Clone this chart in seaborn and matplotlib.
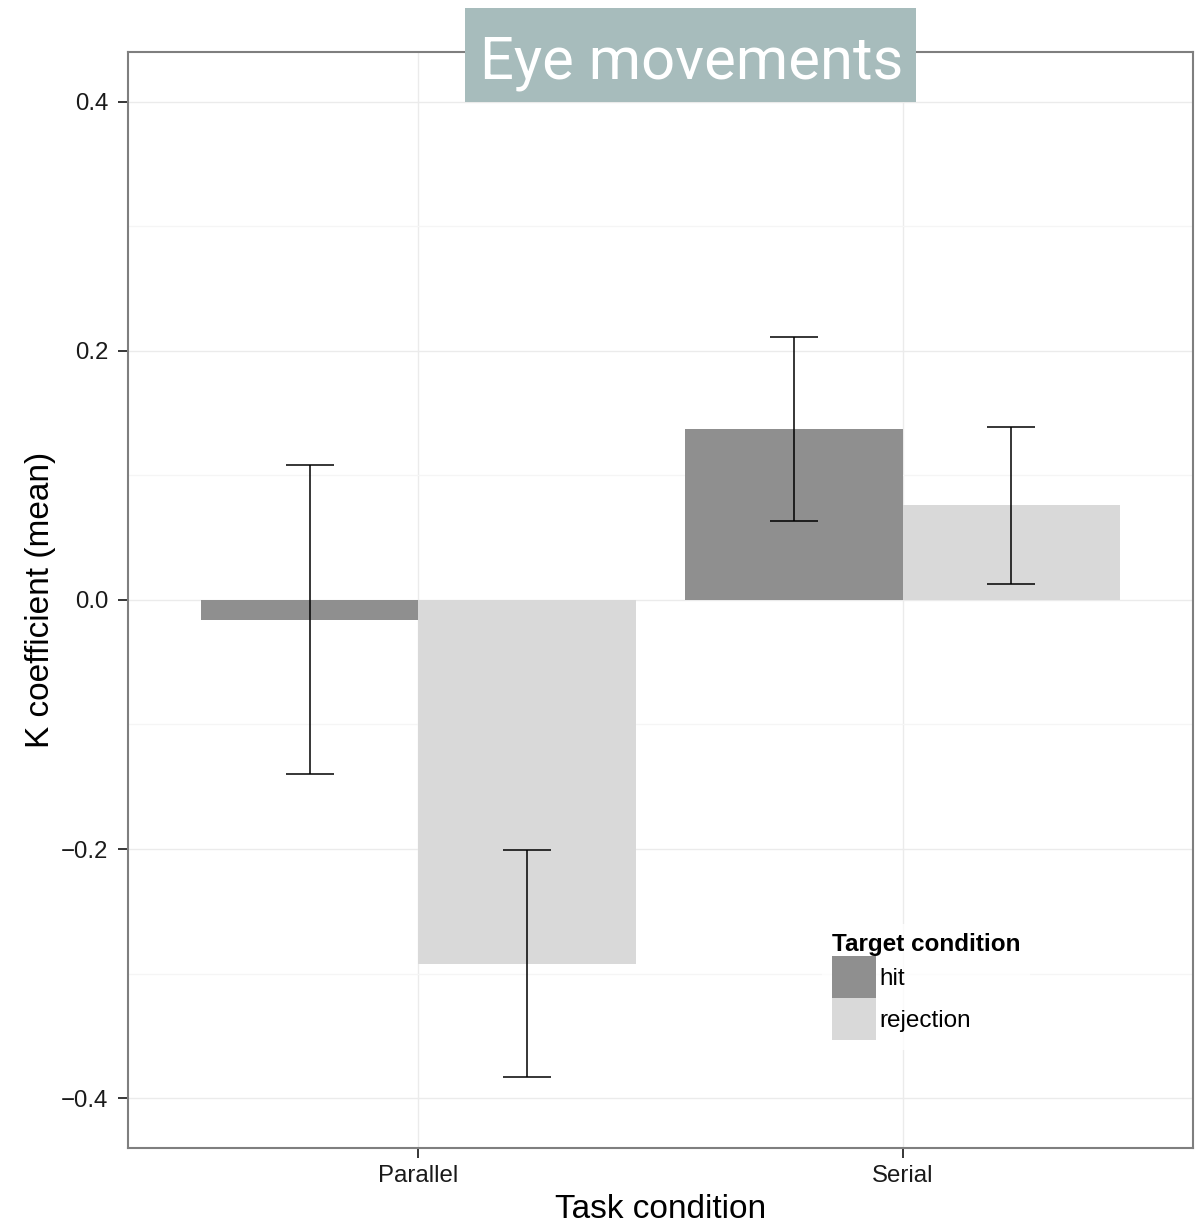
import matplotlib
matplotlib.use("Agg")
import matplotlib.pyplot as plt
import matplotlib.patches as mpatches
from matplotlib.ticker import MultipleLocator
import seaborn as sns
import pandas as pd

# Mean K coefficient per task condition and target condition
tasks = ["Parallel", "Serial"]
targets = ["hit", "rejection"]
k_hit = [-0.016, 0.137]
k_rejection = [-0.292, 0.076]
err_hit = [0.124, 0.074]
err_rejection = [0.091, 0.063]

df = pd.DataFrame({
    "Task condition": tasks * 2,
    "Target condition": [targets[0]] * 2 + [targets[1]] * 2,
    "K": k_hit + k_rejection,
})
errors = {targets[0]: err_hit, targets[1]: err_rejection}

sns.set_theme(style="white")
plt.rcParams["font.family"] = ["Liberation Sans", "DejaVu Sans"]
plt.rcParams["axes.unicode_minus"] = True

fig = plt.figure(figsize=(12.01, 12.25), dpi=100)
ax = fig.add_axes([0.1066, 0.0629, 0.8867, 0.8947])

palette = {"hit": "#8f8f8f", "rejection": "#d9d9d9"}
sns.barplot(data=df, x="Task condition", y="K", hue="Target condition",
            order=tasks, hue_order=targets, palette=palette,
            width=0.9, gap=0, saturation=1, errorbar=None, ax=ax,
            linewidth=0, zorder=2)

# error bars centred on each bar
for container, level in zip(ax.containers, targets):
    for bar, err in zip(container, errors[level]):
        xc = bar.get_x() + bar.get_width() / 2
        yv = bar.get_y() + bar.get_height()
        ax.errorbar(xc, yv, yerr=err, fmt="none", ecolor="black",
                    elinewidth=1.1, capsize=17, capthick=1.1, zorder=3)

ax.set_xlim(-0.6, 1.6)
ax.set_ylim(-0.44, 0.44)
ax.yaxis.set_major_locator(MultipleLocator(0.2))
ax.yaxis.set_minor_locator(MultipleLocator(0.1))

ax.grid(True, which="major", color="#ebebeb", linewidth=1.0, zorder=0)
ax.grid(True, which="minor", axis="y", color="#f5f5f5", linewidth=1.0, zorder=0)
ax.set_axisbelow(True)

for sp in ax.spines.values():
    sp.set_color("#7f7f7f")
    sp.set_linewidth(1.5)

ax.tick_params(axis="both", which="major", direction="out", length=7.5,
               width=1.1, color="black", labelsize=17.3, labelcolor="#1a1a1a",
               bottom=True, left=True)
ax.tick_params(axis="x", which="major", pad=5)
ax.tick_params(axis="y", which="major", pad=6.5)
ax.tick_params(axis="y", which="minor", length=0)

ax.set_xlabel("Task condition", fontsize=24, labelpad=5, color="black")
ax.set_ylabel("K coefficient (mean)", fontsize=24, labelpad=4, color="black")

handles, labels = ax.get_legend_handles_labels()
leg = ax.legend(handles, labels, title="Target condition", loc="upper left",
                bbox_to_anchor=(0.6407, 0.2157), frameon=True, fontsize=17.5,
                title_fontsize=17.5, handlelength=1.81, handleheight=2.28,
                labelspacing=0.0, handletextpad=0.15, borderpad=0.4,
                fancybox=False, alignment="left")
leg.get_title().set_fontweight("bold")
leg.get_title().set_color("black")
for t in leg.get_texts():
    t.set_color("black")
leg.get_frame().set_facecolor("white")
leg.get_frame().set_edgecolor("white")
leg.get_frame().set_linewidth(0)

# title banner above the panel
fig.patches.append(mpatches.Rectangle((0.3872, 0.9167), 0.3755, 0.0767,
                                      transform=fig.transFigure,
                                      facecolor="#a7bcbc", edgecolor="none",
                                      zorder=5))
fig.text(0.5758, 0.9363, "Eye movements", ha="center", va="baseline",
         fontsize=43, color="white", family=["Roboto", "DejaVu Sans"],
         zorder=6)

fig.savefig("out.png", dpi=100)
